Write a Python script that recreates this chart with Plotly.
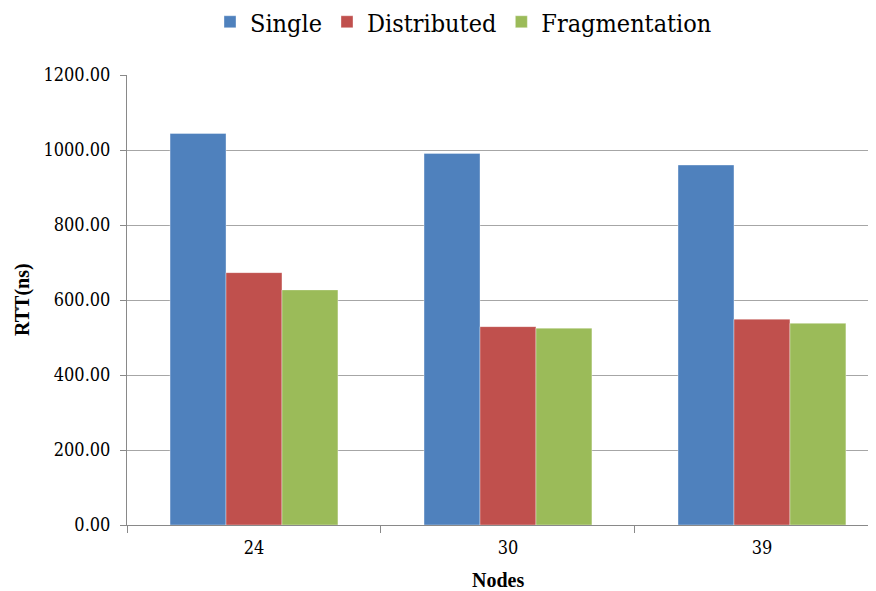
import plotly.graph_objects as go

categories = ["24", "30", "39"]
series_names = ["Single", "Distributed", "Fragmentation"]
single = [1044, 991, 960]
distributed = [673, 529, 549]
fragmentation = [627, 525, 538]
colors = ["#4F81BD", "#C0504D", "#9BBB59"]

fig = go.Figure()
for name, vals, col in zip(series_names, [single, distributed, fragmentation], colors):
    fig.add_trace(go.Bar(
        x=categories, y=vals, name=name,
        marker=dict(color=col, line=dict(width=0.6, color="rgba(255,255,255,0.6)")),
    ))

# page body has an 8px margin: figure origin is at (8, 8) on screen
OFF = 8
L, T = 127 - OFF, 75 - OFF
PW, PH = 876 - 127, 525 - 75
W, H = 876, 591
R = W - L - PW
B = H - T - PH

REG = "DejaVu Serif Condensed, DejaVu Serif"
fig.update_layout(
    width=W, height=H,
    margin=dict(l=L, r=R, t=T, b=B, autoexpand=False),
    paper_bgcolor="white", plot_bgcolor="white",
    barmode="group", bargap=0.339, bargroupgap=0,
    font=dict(family=REG, size=18, color="#000000"),
    legend=dict(
        orientation="h", x=(210 - 127) / PW, xanchor="left",
        y=1 + 53 / PH, yanchor="middle",
        font=dict(size=25, family=REG),
        itemwidth=30,
    ),
    showlegend=True,
    annotations=[
        dict(text="<b>RTT(ns)</b>", x=(22 - 127) / PW, xref="paper", y=0.5, yref="paper",
             showarrow=False, textangle=-90, font=dict(size=20, family="Liberation Serif"),
             xanchor="center", yanchor="middle"),
        dict(text="<b>Nodes</b>", x=(498 - 127) / PW, xref="paper", y=-55 / PH, yref="paper",
             showarrow=False, font=dict(size=20, family="Liberation Serif"),
             xanchor="center", yanchor="middle"),
    ],
)

fig.update_xaxes(
    type="category", range=[-0.5, 2.449], automargin=False,
    showline=True, linecolor="#898989", linewidth=1,
    ticks="outside", tickson="boundaries", ticklen=7, tickcolor="#898989",
    showgrid=False, ticklabelstandoff=6,
    tickfont=dict(size=18, family=REG),
)
fig.update_yaxes(
    range=[0, 1200], dtick=200, tickformat=".2f", automargin=False,
    showline=True, linecolor="#898989", linewidth=1,
    ticks="outside", ticklen=6, tickcolor="#898989",
    showgrid=True, gridcolor="#a6a6a6", gridwidth=1,
    zeroline=False, ticklabelstandoff=6,
    tickfont=dict(size=18, family=REG),
)

fig.write_html("out.html")
